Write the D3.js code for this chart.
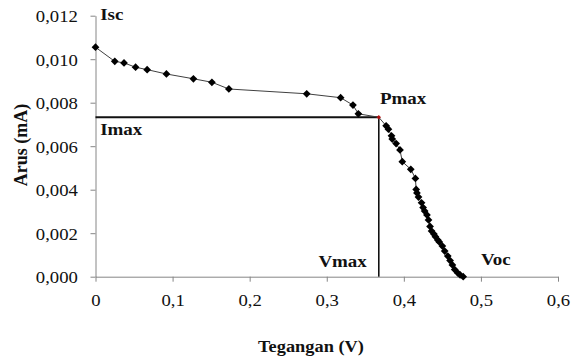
<!DOCTYPE html>
<html>
<head>
<meta charset="utf-8">
<script src="https://cdn.jsdelivr.net/npm/d3@7"></script>
<style>
  html, body { margin: 0; padding: 0; background: #fff; }
  svg { display: block; }
  svg text { font-family: "Liberation Serif", "Times New Roman", Times, serif; }
</style>
</head>
<body>
<svg id="chart" width="571" height="360"></svg>
<script>
// ---- data ----
const voltage = [0, 0.025, 0.037, 0.052, 0.067, 0.092, 0.127, 0.151, 0.173, 0.274, 0.318, 0.334, 0.341, 0.3675,
  0.377, 0.380, 0.384, 0.385, 0.390, 0.395, 0.398, 0.409, 0.415, 0.416, 0.417, 0.419, 0.423, 0.425, 0.427, 0.430,
  0.432, 0.434, 0.436, 0.439, 0.441, 0.444, 0.446, 0.450, 0.453, 0.457, 0.460, 0.463, 0.466, 0.470, 0.473, 0.477];
const current = [0.01055, 0.00990, 0.00983, 0.00963, 0.00952, 0.00932, 0.00910, 0.00894, 0.00863, 0.00841, 0.00823, 0.00789, 0.00749, 0.00733,
  0.00694, 0.00678, 0.00648, 0.00633, 0.00612, 0.00583, 0.00529, 0.00494, 0.00452, 0.00401, 0.00385, 0.00366, 0.00340, 0.00318, 0.00302, 0.00284,
  0.00261, 0.00231, 0.00210, 0.00196, 0.00184, 0.00169, 0.00160, 0.00141, 0.00118, 0.00095, 0.00074, 0.00054, 0.00033, 0.00017, 0.00008, 0.0];
const pmaxV = [0.3675];
const pmaxI = [0.00733];
const xTicks = [0, 0.1, 0.2, 0.3, 0.4, 0.5, 0.6];
const xTickLabels = ["0", "0,1", "0,2", "0,3", "0,4", "0,5", "0,6"];
const yTicks = [0, 0.002, 0.004, 0.006, 0.008, 0.010, 0.012];
const yTickLabels = ["0,000", "0,002", "0,004", "0,006", "0,008", "0,010", "0,012"];
const annotations = [
  {text: "Isc", v: 0.006, i: 0.01181, anchor: "start"},
  {text: "Imax", v: 0.006, i: 0.00653, anchor: "start"},
  {text: "Pmax", v: 0.369, i: 0.00794, anchor: "start"},
  {text: "Vmax", v: 0.352, i: 0.00045, anchor: "end"},
  {text: "Voc", v: 0.500, i: 0.00054, anchor: "start"}
];
const xTitle = "Tegangan (V)";
const yTitle = "Arus (mA)";

// ---- chart ----
const svg = d3.select("#chart");
const x = d3.scaleLinear().domain([0, 0.6]).range([95.5, 558]);
const y = d3.scaleLinear().domain([0, 0.012]).range([276.7, 15.7]);
const axisColor = "#868686";

// axes
const gx = svg.append("g").attr("transform", `translate(0,${y(0)})`)
  .call(d3.axisBottom(x).tickValues(xTicks).tickFormat((d, i) => xTickLabels[i])
    .tickSize(5).tickSizeOuter(0).tickPadding(12));
const gy = svg.append("g").attr("transform", `translate(${x(0)},0)`)
  .call(d3.axisLeft(y).tickValues(yTicks).tickFormat((d, i) => yTickLabels[i])
    .tickSize(5).tickSizeOuter(0).tickPadding(11));
[gx, gy].forEach(g => {
  g.attr("font-family", null);
  g.select(".domain").attr("stroke", axisColor).attr("stroke-width", 1);
  g.selectAll(".tick line").attr("stroke", axisColor).attr("stroke-width", 1);
  g.selectAll(".tick text").attr("fill", "#111")
    .attr("font-size", 17).attr("transform", "scale(1.1,1)");
});
gy.selectAll(".tick text").attr("dy", "0.35em");

// guide lines for Pmax
svg.append("line")
  .attr("x1", x(0)).attr("y1", y(pmaxI[0])).attr("x2", x(pmaxV[0])).attr("y2", y(pmaxI[0]))
  .attr("stroke", "#111").attr("stroke-width", 1.8);
svg.append("line")
  .attr("x1", x(pmaxV[0])).attr("y1", y(pmaxI[0])).attr("x2", x(pmaxV[0])).attr("y2", y(0))
  .attr("stroke", "#111").attr("stroke-width", 1.6);

// series line
const pts = voltage.map((v, k) => ({v, i: current[k]}));
svg.append("path").datum(pts)
  .attr("fill", "none").attr("stroke", "#404040").attr("stroke-width", 1)
  .attr("d", d3.line().x(d => x(d.v)).y(d => y(d.i)));

// markers
const diamond = d3.symbol().type(d3.symbolSquare).size(30);
svg.append("g").selectAll("path")
  .data(pts.filter(d => !(d.v === pmaxV[0] && d.i === pmaxI[0])))
  .join("path")
  .attr("d", diamond)
  .attr("transform", d => `translate(${x(d.v)},${y(d.i)}) rotate(45)`)
  .attr("fill", "#000");

// Pmax marker
svg.append("g").selectAll("path")
  .data(pmaxV.map((v, k) => ({v, i: pmaxI[k]})))
  .join("path")
  .attr("d", d3.symbol().type(d3.symbolSquare).size(10))
  .attr("transform", d => `translate(${x(d.v)},${y(d.i)}) rotate(45)`)
  .attr("fill", "#b01010");

// annotations
svg.append("g").selectAll("text").data(annotations).join("text")
  .attr("transform", d => `translate(${x(d.v)},${y(d.i)}) scale(1.15,1)`)
  .attr("text-anchor", d => d.anchor)
  .attr("font-weight", "bold").attr("font-size", 16.5)
  .attr("fill", "#111")
  .text(d => d.text);

// axis titles
svg.append("text")
  .attr("transform", "translate(311,352) scale(1.08,1)")
  .attr("text-anchor", "middle")
  .attr("font-weight", "bold").attr("font-size", 17)
  .attr("fill", "#111").text(xTitle);
svg.append("text")
  .attr("transform", "translate(27,145) rotate(-90)")
  .attr("text-anchor", "middle")
  .attr("font-weight", "bold").attr("font-size", 18)
  .attr("fill", "#111").text(yTitle);
</script>
</body>
</html>
